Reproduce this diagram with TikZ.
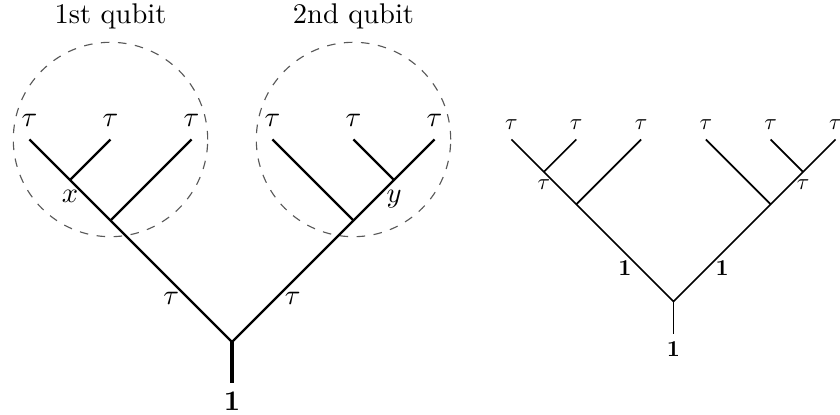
\documentclass[tikz,border=0pt]{standalone}
\usepackage{tikz}
\usetikzlibrary{positioning}
\tikzset{
  edge/.style={thick},
  stem/.style={line width=1.4pt},
  qubitring/.style={draw=black!65,dashed,circle,inner sep=0pt,minimum size=2.4cm},
  lbl/.style={inner sep=3.33pt},
}

\begin{document}
\begin{tikzpicture}[x=0.5cm,y=0.5cm]
  \useasboundingbox (-5.728,-1.802) rectangle (15.012,8.444);

  % fusion tree of the two qubits
  \coordinate (lroot) at (0,0);
  \coordinate (lbase) at (0,-1);
  \coordinate (la) at (-3,3);
  \coordinate (lb) at (-4,4);
  \coordinate (ra) at (3,3);
  \coordinate (rb) at (4,4);
  \coordinate (ll1) at (-5,5);
  \coordinate (ll2) at (-3,5);
  \coordinate (ll3) at (-1,5);
  \coordinate (rl1) at (1,5);
  \coordinate (rl2) at (3,5);
  \coordinate (rl3) at (5,5);

  \node[qubitring] (q1ring) at (ll2) {};
  \node[qubitring] (q2ring) at (rl2) {};
  \node[above=1pt of q1ring] (q1title) {1st qubit};
  \node[above=1pt of q2ring] (q2title) {2nd qubit};

  \draw[edge] (ll1) -- (lroot) node[pos=0.7,below,lbl] (ltau) {$\tau$}
    -- (rl3) node[pos=0.3,below,lbl] (rtau) {$\tau$};
  \draw[edge] (ll2) -- (lb);
  \draw[edge] (ll3) -- (la);
  \draw[edge] (rl1) -- (ra);
  \draw[edge] (rl2) -- (rb);
  \draw[stem] (lroot) -- (lbase);

  \foreach \leaf in {ll1,ll2,ll3,rl1,rl2,rl3}
    \node[lbl,above=1pt] (\leaf-tau) at (\leaf) {$\tau$};
  \node[lbl,below] (xlbl) at (lb) {$x$};
  \node[lbl,below] (ylbl) at (rb) {$y$};
  \node[lbl,below] (lone) at (lbase) {$\mathbf{1}$};

  % same tree with its labels fixed
  \begin{scope}[shift={(10.9,1)},scale=0.8,transform shape]
    \coordinate (sroot) at (0,0);
    \coordinate (sbase) at (0,-1);
    \coordinate (sla) at (-3,3);
    \coordinate (slb) at (-4,4);
    \coordinate (sra) at (3,3);
    \coordinate (srb) at (4,4);
    \coordinate (sll1) at (-5,5);
    \coordinate (sll2) at (-3,5);
    \coordinate (sll3) at (-1,5);
    \coordinate (srl1) at (1,5);
    \coordinate (srl2) at (3,5);
    \coordinate (srl3) at (5,5);

    \draw[semithick] (sll1) -- (sroot) node[pos=0.7,below,lbl] (slone) {$\mathbf{1}$}
      -- (srl3) node[pos=0.3,below,lbl] (srone) {$\mathbf{1}$};
    \draw[semithick] (sll2) -- (slb);
    \draw[semithick] (sll3) -- (sla);
    \draw[semithick] (srl1) -- (sra);
    \draw[semithick] (srl2) -- (srb);
    \draw[semithick] (sroot) -- (sbase);

    \foreach \leaf in {sll1,sll2,sll3,srl1,srl2,srl3}
      \node[lbl,above=1pt] (\leaf-tau) at (\leaf) {$\tau$};
    \node[lbl,below] (sxlbl) at (slb) {$\tau$};
    \node[lbl,below] (sylbl) at (srb) {$\tau$};
    \node[lbl,below] (sone) at (sbase) {$\mathbf{1}$};
  \end{scope}
\end{tikzpicture}
\end{document}
